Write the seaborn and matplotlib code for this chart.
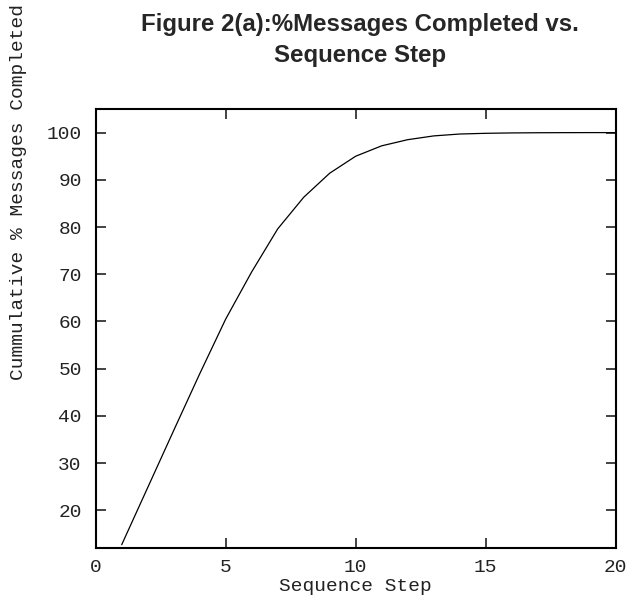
import matplotlib
matplotlib.use("Agg")
import matplotlib.pyplot as plt
import seaborn as sns
import pandas as pd

steps = [1, 2, 3, 4, 5, 6, 7, 8, 9, 10, 11, 12, 13, 14, 15, 16, 17, 18, 19, 20]
pct_completed = [12.7, 24.8, 36.9, 48.9, 60.5, 70.5, 79.6, 86.3, 91.4, 95.0,
                 97.2, 98.5, 99.3, 99.7, 99.85, 99.93, 99.97, 99.99, 100.0, 100.0]
x_ticks = [0, 5, 10, 15, 20]
y_ticks = [20, 30, 40, 50, 60, 70, 80, 90, 100]

title = "Figure 2(a):%Messages Completed vs.\nSequence Step"
x_label = "Sequence Step"
y_label = "Cummulative % Messages Completed"

sns.set_style("ticks")
plt.rcParams["font.family"] = ["Liberation Mono", "DejaVu Sans Mono"]

df = pd.DataFrame({"step": steps, "pct": pct_completed})

fig = plt.figure(figsize=(6.39, 5.97), dpi=100)
ax = fig.add_axes([95.7 / 639, 1 - 548 / 597, 520 / 639, 439 / 597])

sns.lineplot(data=df, x="step", y="pct", ax=ax, color="black", linewidth=0.9)

ax.set_xlim(0, 20)
ax.set_ylim(12, 105)
ax.set_xticks(x_ticks)
ax.set_yticks(y_ticks)
ax.set_xticklabels([str(v) for v in x_ticks])
ax.set_yticklabels([str(v) for v in y_ticks])

for s in ax.spines.values():
    s.set_visible(True)
    s.set_linewidth(1.5)
    s.set_color("black")

ax.tick_params(axis="both", which="major", direction="in", length=7.5, width=1.2,
               top=True, right=True, labelsize=14, colors="#222222", pad=8)
ax.tick_params(axis="y", pad=10)

ax.set_xlabel(x_label, fontsize=14, labelpad=1.5, color="#222222")
ax.set_ylabel(y_label, fontsize=14, color="#222222")
ax.yaxis.label.set_va("center")
ax.yaxis.label.set_ha("center")
ax.yaxis.set_label_coords((18 - 95.7) / 520, (548 - 192) / 439)

ax.set_title(title, fontsize=17.3, fontweight="bold", family="Liberation Sans",
             pad=33.5, linespacing=1.47, x=0.508)

fig.savefig("out.png", dpi=100)
